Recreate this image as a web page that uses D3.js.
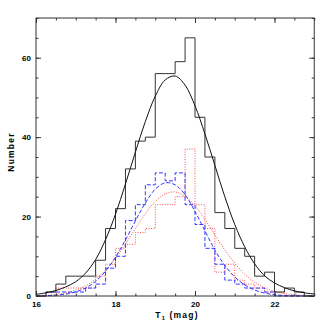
<!DOCTYPE html>
<html>
<head>
<meta charset="utf-8">
<script src="https://cdn.jsdelivr.net/npm/d3@7"></script>
<style>
  html, body { margin: 0; padding: 0; background: #fff; }
  svg { display: block; }
  text { font-family: "Liberation Sans", Arial, Helvetica, sans-serif; font-weight: bold; fill: #000; }
</style>
</head>
<body>
<svg id="chart" width="332" height="332"></svg>
<script>
// ---- data ----
const binEdges = [16.0,16.25,16.5,16.75,17.0,17.25,17.5,17.75,18.0,18.25,18.5,18.75,19.0,19.25,19.5,19.75,20.0,20.25,20.5,20.75,21.0,21.25,21.5,21.75,22.0,22.25,22.5,22.75];
const histEnd = 23.0;
const totalCounts = [0,1,3,5,5,5,9,17,22,32,39,40,56,56,59,65,45,35,21,17,12,10,5,6,1,2,1,0];
const blueCounts  = [0,1,1,1,1,2,3,7,10,19,23,28,31,29,31,23,18,12,8,4,3,2,2,1,0,0,0,0];
const redCounts   = [0,0,2,2,2,2,5,8,12,13,16,17,23,23,25,37,23,17,6,8,4,3,2,1,1,0,0,0];

const curveMag = [16.0,16.25,16.5,16.75,17.0,17.25,17.5,17.75,18.0,18.25,18.5,18.75,19.0,19.25,19.5,19.75,20.0,20.25,20.5,20.75,21.0,21.25,21.5,21.75,22.0,22.25,22.5,22.75,23.0];
const totalFit = [0.4,0.8,1.4,2.3,3.6,5.8,9.2,14.2,20.6,28.2,36.2,43.9,50.3,54.4,55.4,53.1,47.9,40.8,32.9,25.0,18.0,12.4,8.1,5.1,3.3,2.1,1.3,0.8,0.5];
const blueFit  = [0.03,0.08,0.21,0.48,1.03,2.03,3.7,6.25,9.8,14.1,18.9,23.4,26.9,28.5,28.0,25.5,21.3,16.4,11.6,7.7,4.8,2.8,1.5,0.75,0.34,0.14,0.06,0.02,0.01];
const redFit   = [0.09,0.19,0.4,0.79,1.46,2.56,4.21,6.53,9.53,13.1,17.0,20.7,23.8,25.7,26.2,25.1,22.7,19.3,15.4,11.6,8.3,5.5,3.5,2.06,1.15,0.6,0.3,0.14,0.06];

const xMajorTicks = [16,18,20,22];
const xMinorTicks = [16,16.5,17,17.5,18,18.5,19,19.5,20,20.5,21,21.5,22,22.5,23];
const yMajorTicks = [0,20,40,60];
const yMinorTicks = [0,5,10,15,20,25,30,35,40,45,50,55,60,65,70];
const xDomain = [16,23];
const yDomain = [0,70];

// ---- drawing ----
const svg = d3.select("#chart");
const L = 36, R = 314.25, T = 18, B = 296;
const x = d3.scaleLinear().domain(xDomain).range([L, R]);
const y = d3.scaleLinear().domain(yDomain).range([B, T]);

const plot = svg.append("g");

function histPoints(counts) {
  const pts = binEdges.map((e, i) => [e, counts[i]]);
  pts.push([histEnd, 0]);
  return pts;
}
const stepLine = d3.line().x(d => x(d[0])).y(d => y(d[1])).curve(d3.curveStepAfter);
const smoothLine = d3.line().x(d => x(d[0])).y(d => y(d[1])).curve(d3.curveCatmullRom.alpha(0.5));

const redColor = "#ff4a4a", blueColor = "#3535ff";

// red dotted histogram & curve
plot.append("path").attr("d", stepLine(histPoints(redCounts)))
  .attr("fill", "none").attr("stroke", redColor).attr("stroke-width", 1).attr("stroke-dasharray", "1,1.5");
plot.append("path").attr("d", smoothLine(curveMag.map((m, i) => [m, redFit[i]])))
  .attr("fill", "none").attr("stroke", redColor).attr("stroke-width", 1).attr("stroke-dasharray", "1,1.5");

// blue dashed histogram & curve
plot.append("path").attr("d", stepLine(histPoints(blueCounts)))
  .attr("fill", "none").attr("stroke", blueColor).attr("stroke-width", 1).attr("stroke-dasharray", "4,2");
plot.append("path").attr("d", smoothLine(curveMag.map((m, i) => [m, blueFit[i]])))
  .attr("fill", "none").attr("stroke", blueColor).attr("stroke-width", 1).attr("stroke-dasharray", "4,2");

// black solid histogram & curve
plot.append("path").attr("d", stepLine(histPoints(totalCounts)))
  .attr("fill", "none").attr("stroke", "#333").attr("stroke-width", 1);
plot.append("path").attr("d", smoothLine(curveMag.map((m, i) => [m, totalFit[i]])))
  .attr("fill", "none").attr("stroke", "#111").attr("stroke-width", 1);

// axes: ticks inward on all sides
function styleAxis(g) {
  g.select(".domain").remove();
  g.selectAll("line").attr("stroke", "#333");
  g.selectAll("text").style("font-size", "8px").style("font-weight", "bold")
    .style("font-family", '"Liberation Sans", Arial, sans-serif');
}
const fmt = d3.format("d");
svg.append("g").attr("transform", `translate(0,${B})`)
  .call(d3.axisBottom(x).tickValues(xMinorTicks).tickSize(-2.5).tickFormat(""))
  .call(styleAxis);
svg.append("g").attr("transform", `translate(0,${B})`)
  .call(d3.axisBottom(x).tickValues(xMajorTicks).tickSize(-5).tickPadding(5).tickFormat(fmt))
  .call(styleAxis);
svg.append("g").attr("transform", `translate(0,${T})`)
  .call(d3.axisTop(x).tickValues(xMinorTicks).tickSize(-2.5).tickFormat(""))
  .call(styleAxis);
svg.append("g").attr("transform", `translate(0,${T})`)
  .call(d3.axisTop(x).tickValues(xMajorTicks).tickSize(-5).tickFormat(""))
  .call(styleAxis);
svg.append("g").attr("transform", `translate(${L},0)`)
  .call(d3.axisLeft(y).tickValues(yMinorTicks).tickSize(-2.5).tickFormat(""))
  .call(styleAxis);
svg.append("g").attr("transform", `translate(${L},0)`)
  .call(d3.axisLeft(y).tickValues(yMajorTicks).tickSize(-5).tickPadding(5).tickFormat(fmt))
  .call(styleAxis);
svg.append("g").attr("transform", `translate(${R},0)`)
  .call(d3.axisRight(y).tickValues(yMinorTicks).tickSize(-2.5).tickFormat(""))
  .call(styleAxis);
svg.append("g").attr("transform", `translate(${R},0)`)
  .call(d3.axisRight(y).tickValues(yMajorTicks).tickSize(-5).tickFormat(""))
  .call(styleAxis);

// frame
svg.append("rect").attr("x", L).attr("y", T).attr("width", R - L).attr("height", B - T)
  .attr("fill", "none").attr("stroke", "#333").attr("stroke-width", 1);

// axis titles
const xt = svg.append("text").attr("x", 177).attr("y", 318)
  .attr("text-anchor", "middle").style("font-size", "8.5px").style("letter-spacing", "1.2px");
xt.append("tspan").text("T");
xt.append("tspan").attr("dy", 2).style("font-size", "5.5px").text("1");
xt.append("tspan").attr("dy", -2).text(" (mag)");

svg.append("text").attr("transform", `translate(14,152) rotate(-90)`)
  .attr("text-anchor", "middle").style("font-size", "8.5px").style("letter-spacing", "1.2px").text("Number");
</script>
</body>
</html>
